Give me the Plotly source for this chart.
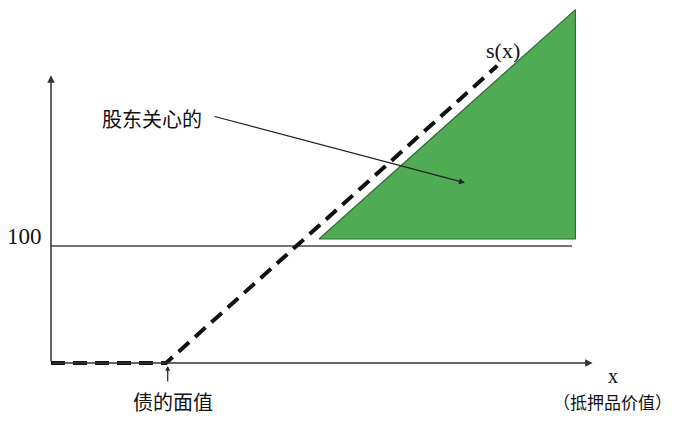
import plotly.graph_objects as go

# ---- data (diagram coordinates) ----
face_value = 100           # 债的面值 on x axis
level_100 = 100            # horizontal reference level
sx_x = [0, 100, 388]       # s(x) payoff kink points (x)
sx_y = [0, 0, 254]         # s(x) payoff (y)
tri_x = [233, 456, 456, 233]   # shaded region shareholders care about
tri_y = [106, 106, 302, 106]
hline_x = [0, 453]
x_axis_end = 471
y_axis_end = 246

W, H = 686, 423
ox, oy = 51, 363
kx, ky = 1.15, 1.17
xr = [(0 - ox) / kx, (W - ox) / kx]
yr = [(oy - H) / ky, oy / ky]

fig = go.Figure()

# horizontal 100 line
fig.add_trace(go.Scatter(x=hline_x, y=[level_100, level_100], mode="lines",
                         line=dict(color="#444444", width=1.5), hoverinfo="skip"))
# green triangle
fig.add_trace(go.Scatter(x=tri_x, y=tri_y, mode="lines", fill="toself",
                         fillcolor="#4fab54", line=dict(color="#2f6e33", width=1.2),
                         hoverinfo="skip"))
# dashed s(x)
fig.add_trace(go.Scatter(x=sx_x, y=sx_y, mode="lines",
                         line=dict(color="#111111", width=4, dash="14px,8px"),
                         hoverinfo="skip"))

ann = []
# axes with arrows
ann.append(dict(x=x_axis_end, y=0, ax=0, ay=0, xref="x", yref="y", axref="x", ayref="y",
                showarrow=True, arrowhead=2, arrowsize=1, arrowwidth=1.5,
                arrowcolor="#333333", text=""))
ann.append(dict(x=0, y=y_axis_end, ax=0, ay=0, xref="x", yref="y", axref="x", ayref="y",
                showarrow=True, arrowhead=2, arrowsize=1, arrowwidth=1.5,
                arrowcolor="#333333", text=""))
# pointer arrow from label into region
ann.append(dict(x=360, y=154, ax=141, ay=211, xref="x", yref="y", axref="x", ayref="y",
                showarrow=True, arrowhead=2, arrowsize=1, arrowwidth=1.2,
                arrowcolor="#222222", text=""))
# small arrow to face value
ann.append(dict(x=face_value + 1.5, y=-2.6, ax=face_value + 1.5, ay=-17, xref="x", yref="y",
                axref="x", ayref="y", showarrow=True, arrowhead=2, arrowsize=0.8,
                arrowwidth=1.2, arrowcolor="#222222", text=""))

serif = "Liberation Serif"
cjk = "Noto Sans CJK SC"

def txt(x, y, s, fam, size):
    ann.append(dict(x=x, y=y, xref="x", yref="y", text=s, showarrow=False,
                    font=dict(family=fam, size=size, color="#111111"),
                    xanchor="center", yanchor="middle"))

txt((24 - ox) / kx, (oy - 236) / ky, "100", serif, 23)
txt((152 - ox) / kx, (oy - 118) / ky, "股东关心的", cjk, 20)
txt((503 - ox) / kx, (oy - 50) / ky, "s(x)", serif, 22)
txt((613 - ox) / kx, (oy - 376) / ky, "x", serif, 20)
txt((173 - ox) / kx, (oy - 401) / ky, "债的面值", cjk, 20)
txt((612 - ox) / kx, (oy - 401) / ky, "（抵押品价值）", cjk, 17)

fig.update_layout(
    width=W, height=H, margin=dict(l=0, r=0, t=0, b=0),
    paper_bgcolor="white", plot_bgcolor="white", showlegend=False,
    xaxis=dict(range=xr, visible=False, fixedrange=True),
    yaxis=dict(range=yr, visible=False, fixedrange=True),
    annotations=ann,
)

fig.write_html("out.html", config={"displayModeBar": False},
               post_script="document.body.style.margin='0';document.body.style.overflow='hidden';")
